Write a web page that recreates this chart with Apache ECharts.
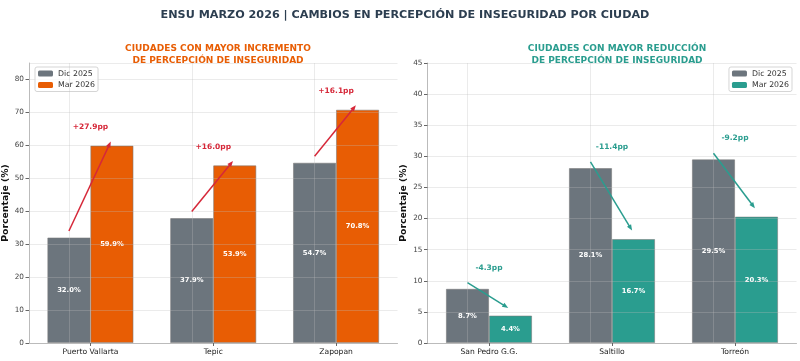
<!DOCTYPE html>
<html><head><meta charset="utf-8">
<script src="https://cdn.jsdelivr.net/npm/echarts@6/dist/echarts.min.js"></script>
<style>html,body{margin:0;padding:0;background:#fff}#c{width:800px;height:361px}</style>
</head><body><div id="c"></div>
<script>
const mainTitle = 'ENSU MARZO 2026 | CAMBIOS EN PERCEPCIÓN DE INSEGURIDAD POR CIUDAD';
const leftTitle = 'CIUDADES CON MAYOR INCREMENTO\nDE PERCEPCIÓN DE INSEGURIDAD';
const rightTitle = 'CIUDADES CON MAYOR REDUCCIÓN\nDE PERCEPCIÓN DE INSEGURIDAD';
const seriesNames = ['Dic 2025', 'Mar 2026'];
const leftCities = ['Puerto Vallarta', 'Tepic', 'Zapopan'];
const leftDic = [32.0, 37.9, 54.7];
const leftMar = [59.9, 53.9, 70.8];
const rightCities = ['San Pedro G.G.', 'Saltillo', 'Torreón'];
const rightDic = [8.7, 28.1, 29.5];
const rightMar = [4.4, 16.7, 20.3];
const leftTicks = {min: 0, max: 85, interval: 10};
const rightTicks = {min: 0, max: 45, interval: 5};

const GREY = '#6c757d', ORANGE = '#e85d04', TEAL = '#2a9d8f', RED = '#d62839';
const FONT = 'DejaVu Sans';

function arrowSeries(xi, dic, mar, color, off) {
  return {
    type: 'custom', xAxisIndex: xi, yAxisIndex: xi, z: 5, silent: true,
    data: dic.map((d, i) => [i, d, mar[i]]),
    renderItem: function (params, api) {
      const i = api.value(0), a = api.value(1), b = api.value(2);
      const bw = api.size([1, 0])[0];
      const p1 = api.coord([i, a + off]); p1[0] -= 0.175 * bw;
      const p2 = api.coord([i, b + off]); p2[0] += 0.175 * bw;
      const dx = p2[0] - p1[0], dy = p2[1] - p1[1];
      const L = Math.sqrt(dx * dx + dy * dy);
      const ux = dx / L, uy = dy / L;
      const tip = [p2[0] - ux * 2.7, p2[1] - uy * 2.7];
      const hl = 6, hw = 2.4;
      const base = [tip[0] - ux * hl, tip[1] - uy * hl];
      const nx = -uy, ny = ux;
      return {
        type: 'group', children: [
          {type: 'line', shape: {x1: p1[0], y1: p1[1], x2: base[0] + ux, y2: base[1] + uy},
           style: {stroke: color, lineWidth: 1.5}},
          {type: 'polygon', shape: {points: [tip, [base[0] + nx * hw, base[1] + ny * hw], [base[0] - nx * hw, base[1] - ny * hw]]},
           style: {fill: color}}
        ]
      };
    }
  };
}
function textSeries(xi, dic, mar, color, off) {
  return {
    type: 'custom', xAxisIndex: xi, yAxisIndex: xi, z: 6, silent: true,
    data: dic.map((d, i) => [i, d, mar[i]]),
    renderItem: function (params, api) {
      const i = api.value(0), a = api.value(1), b = api.value(2);
      const p = api.coord([i, Math.max(a, b) + off]);
      const diff = b - a;
      const txt = (diff > 0 ? '+' : '') + diff.toFixed(1) + 'pp';
      return {type: 'text', x: p[0], y: p[1],
        style: {text: txt, fill: color, font: 'bold 7.5px "DejaVu Sans"', align: 'center', verticalAlign: 'middle'}};
    }
  };
}
function barSeries(name, xi, vals, color) {
  return {
    name: name, type: 'bar', xAxisIndex: xi, yAxisIndex: xi, data: vals,
    barWidth: 43, barGap: '0%', z: 2,
    itemStyle: {color: color, borderColor: 'rgba(120,120,120,0.7)', borderWidth: 0.8},
    label: {show: true, position: 'inside', color: '#fff', fontWeight: 'bold', fontSize: 6.8, fontFamily: FONT,
      formatter: p => p.value.toFixed(1) + '%'}
  };
}
function vLines(cities) {
  return {silent: true, symbol: 'none', label: {show: false},
    lineStyle: {color: 'rgba(190,190,190,0.3)', type: 'solid', width: 1},
    data: cities.map(c => ({xAxis: c}))};
}
function yAxis(gi, t) {
  return {type: 'value', gridIndex: gi, min: t.min, max: t.max, interval: t.interval, z: 3,
    name: 'Porcentaje (%)', nameLocation: 'middle', nameGap: 19, nameRotate: 90,
    nameTextStyle: {fontFamily: FONT, fontWeight: 'bold', fontSize: 9.3, color: '#111'},
    axisLine: {show: true, lineStyle: {color: '#bbb', width: 1}},
    axisTick: {show: true, length: 3.5, lineStyle: {color: '#666'}},
    axisLabel: {fontFamily: FONT, fontSize: 7.3, color: '#444', margin: 5,
      showMaxLabel: t.max % t.interval === 0},
    splitLine: {show: true, lineStyle: {color: 'rgba(190,190,190,0.3)', width: 1}}};
}
function xAxis(gi, cats) {
  return {type: 'category', gridIndex: gi, data: cats, z: 3,
    axisLine: {show: true, lineStyle: {color: '#bbb', width: 1}},
    axisTick: {show: true, alignWithLabel: true, length: 3, lineStyle: {color: '#666'}},
    axisLabel: {fontFamily: FONT, fontSize: 7.6, color: '#222', margin: 5},
    splitLine: {show: false}};
}
function legend(pos, color2) {
  return Object.assign({orient: 'vertical', top: 67, itemWidth: 15, itemHeight: 6, itemGap: 2.5,
    padding: [2, 3], backgroundColor: 'rgba(255,255,255,0.8)', borderColor: '#d5d5d5', borderWidth: 1, borderRadius: 2,
    textStyle: {fontFamily: FONT, fontSize: 7.8, color: '#333', lineHeight: 9},
    data: [{name: seriesNames[0], itemStyle: {color: GREY, borderWidth: 0}},
           {name: seriesNames[1], itemStyle: {color: color2, borderWidth: 0}}]}, pos);
}

const chart = echarts.init(document.getElementById('c'), null, {renderer: 'canvas'});
chart.setOption({
  backgroundColor: '#fff',
  animation: false,
  title: [
    {text: mainTitle, left: 400, top: 5, textAlign: 'center',
     textStyle: {fontFamily: FONT, fontWeight: 'bold', fontSize: 11.2, color: '#2c3e50'}},
    {text: leftTitle, left: 213, top: 38, textAlign: 'center',
     textStyle: {fontFamily: FONT, fontWeight: 'bold', fontSize: 9, lineHeight: 12, color: ORANGE}},
    {text: rightTitle, left: 612, top: 38, textAlign: 'center',
     textStyle: {fontFamily: FONT, fontWeight: 'bold', fontSize: 9, lineHeight: 12, color: TEAL}}
  ],
  grid: [
    {left: 28.5, width: 369, top: 63, bottom: 18},
    {left: 427.5, width: 369, top: 63, bottom: 18}
  ],
  legend: [legend({left: 35}, ORANGE), legend({right: 8}, TEAL)],
  xAxis: [xAxis(0, leftCities), xAxis(1, rightCities)],
  yAxis: [yAxis(0, leftTicks), yAxis(1, rightTicks)],
  series: [
    Object.assign(barSeries(seriesNames[0], 0, leftDic, GREY), {markLine: vLines(leftCities)}),
    barSeries(seriesNames[1], 0, leftMar, ORANGE),
    Object.assign(barSeries(seriesNames[0], 1, rightDic, GREY), {markLine: vLines(rightCities)}),
    barSeries(seriesNames[1], 1, rightMar, TEAL),
    arrowSeries(0, leftDic, leftMar, RED, 2),
    textSeries(0, leftDic, leftMar, RED, 5.6),
    arrowSeries(1, rightDic, rightMar, TEAL, 1),
    textSeries(1, rightDic, rightMar, TEAL, 3.4)
  ]
});
</script></body></html>
